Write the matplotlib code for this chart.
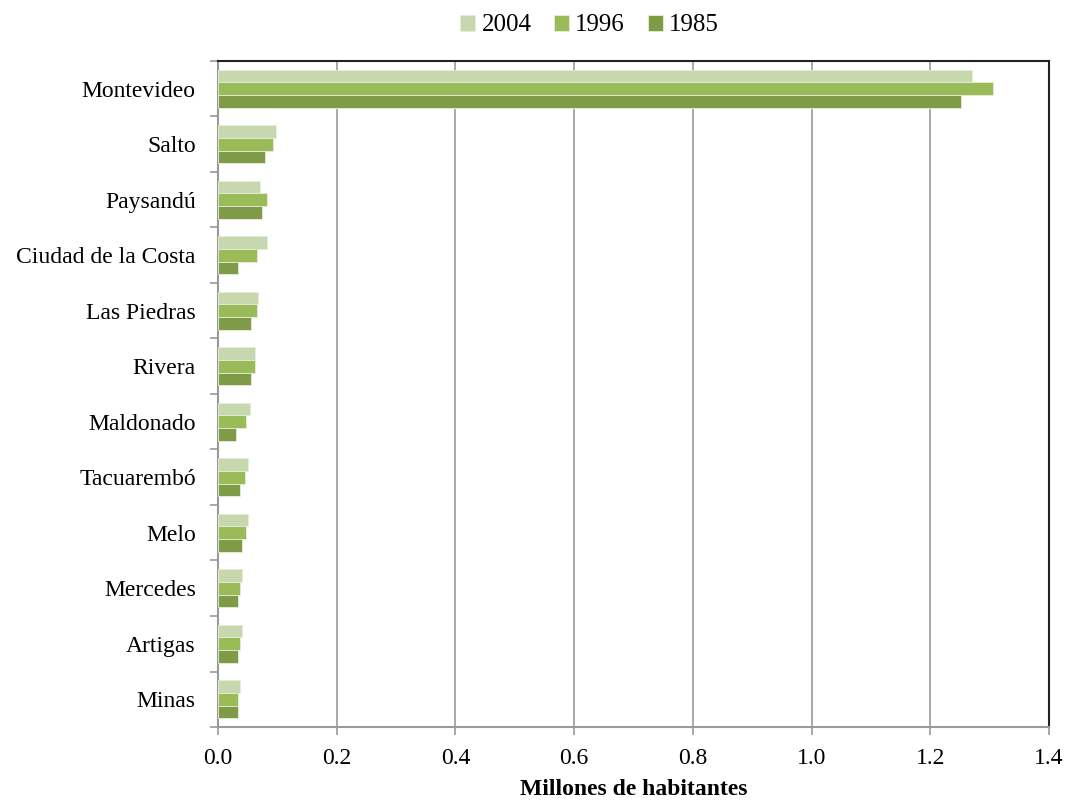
import numpy as np
import matplotlib.pyplot as plt
from matplotlib.ticker import FixedLocator

plt.rcParams['font.family'] = ['Liberation Serif', 'DejaVu Serif']

cities = ['Montevideo', 'Salto', 'Paysandú', 'Ciudad de la Costa', 'Las Piedras',
          'Rivera', 'Maldonado', 'Tacuarembó', 'Melo', 'Mercedes', 'Artigas', 'Minas']
pop_2004 = [1.271, 0.098, 0.071, 0.083, 0.068, 0.063, 0.054, 0.051, 0.051, 0.040, 0.040, 0.037]
pop_1996 = [1.305, 0.093, 0.083, 0.065, 0.065, 0.063, 0.048, 0.046, 0.048, 0.037, 0.037, 0.034]
pop_1985 = [1.252, 0.080, 0.074, 0.034, 0.055, 0.055, 0.031, 0.037, 0.040, 0.034, 0.034, 0.034]

series = [('2004', pop_2004, '#C8D8AE'),
          ('1996', pop_1996, '#9BBB59'),
          ('1985', pop_1985, '#7F9B47')]


def run_main():
    fig = plt.figure(figsize=(10.66, 8.02), dpi=100)
    ax = fig.add_axes([0.2045, 0.0935, 0.7795, 0.8305])

    y = np.arange(len(cities))
    h = 0.228
    for i, (lab, vals, col) in enumerate(series):
        ax.barh(y + (i - 1) * h, vals, height=h, color=col, label=lab,
                edgecolor='#E6EEDA', linewidth=0.6, zorder=3)

    ax.set_xlim(0, 1.4)
    ax.set_ylim(len(cities) - 0.5, -0.5)
    ax.set_xticks(np.arange(0, 1.41, 0.2))
    ax.set_xticklabels(['%.1f' % v for v in np.arange(0, 1.41, 0.2)], fontsize=17)
    ax.set_yticks(y)
    ax.set_yticklabels(cities, fontsize=17)
    ax.yaxis.set_minor_locator(FixedLocator(np.arange(-0.5, len(cities), 1)))
    ax.tick_params(axis='y', which='major', length=0, pad=16)
    ax.tick_params(axis='y', which='minor', length=6, color='#999999', width=1.2)
    ax.tick_params(axis='x', length=6, color='#999999', width=1.2, pad=9)

    ax.grid(axis='x', color='#999999', linewidth=1.2, zorder=0)
    ax.spines['left'].set_color('#999999')
    ax.spines['bottom'].set_color('#999999')
    ax.spines['left'].set_linewidth(1.5)
    ax.spines['bottom'].set_linewidth(1.5)
    ax.spines['top'].set_color('#222222')
    ax.spines['right'].set_color('#222222')
    ax.spines['top'].set_linewidth(1.5)
    ax.spines['right'].set_linewidth(1.5)

    ax.set_xlabel('Millones de habitantes', fontsize=17, fontweight='bold', labelpad=7)

    fig.legend(loc='upper center', bbox_to_anchor=(0.553, 1.01), ncol=3, frameon=False,
               fontsize=18, handlelength=0.6, handleheight=0.6, handletextpad=0.25,
               columnspacing=0.9)

    fig.savefig('out.png', dpi=100)


if __name__ == "__main__":
    run_main()
